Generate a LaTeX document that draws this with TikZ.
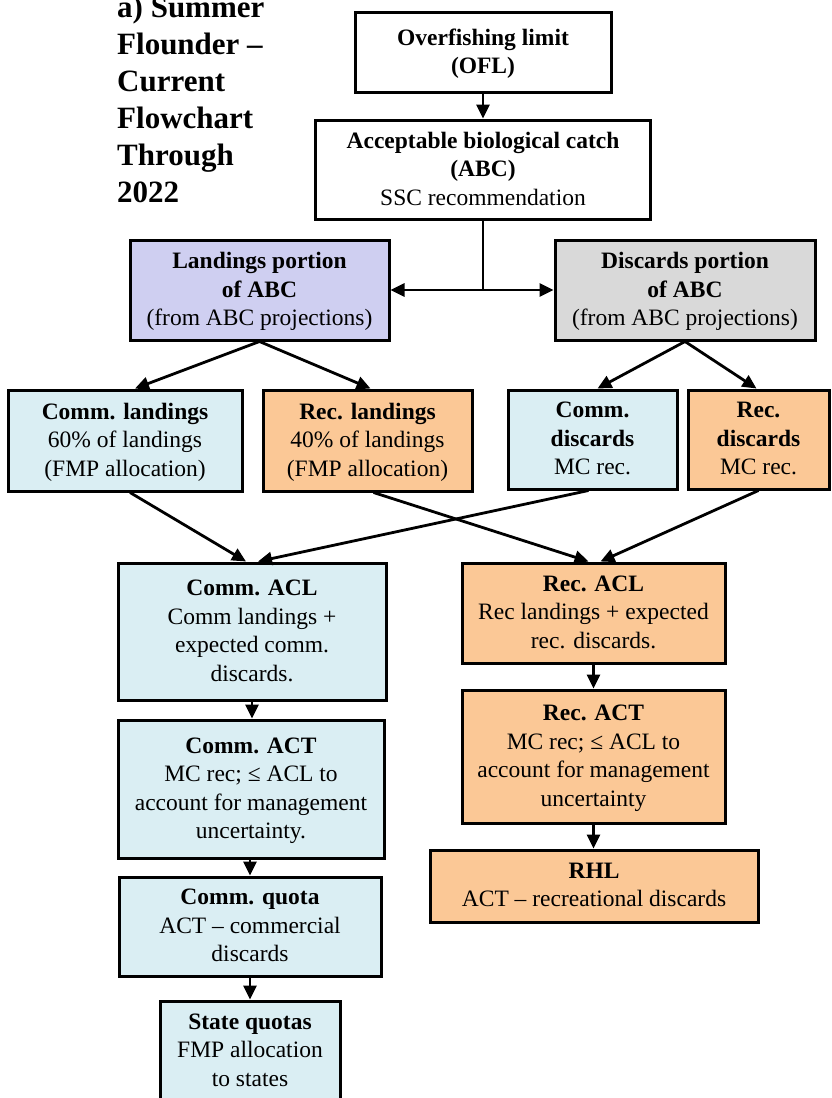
\documentclass[tikz,border=0pt]{standalone}
\usepackage{fontspec}
\setmainfont{Liberation Serif}
\usetikzlibrary{arrows.meta}
\definecolor{lav}{HTML}{CFCFF1}
\definecolor{grayf}{HTML}{D9D9D9}
\definecolor{aqua}{HTML}{DAEEF3}
\definecolor{orng}{HTML}{FBC896}
\begin{document}
\begin{tikzpicture}[x=1pt,y=-1pt,
  box/.style={draw=black, line width=3pt, inner sep=0pt, align=center,
    font=\fontsize{23.5}{28.5}\selectfont, text depth=2pt},
  arr/.style={line width=2.8pt, -{Triangle[length=14pt,width=13pt]}},
  ln/.style={line width=2.8pt}]
\useasboundingbox[fill=white] (0,0) rectangle (831,1098);

\node[anchor=north west, inner sep=0pt, align=left,
  font=\fontsize{31}{37}\selectfont\bfseries] (title) at (117,-4)
  {a) Summer\\Flounder –\\Current\\Flowchart\\Through\\2022};

\node[box, fill=white, minimum width=256, minimum height=80] (ofl) at (483,52)
  {\textbf{Overfishing limit}\\\textbf{(OFL)}};
\node[box, fill=white, minimum width=335, minimum height=99] (abc) at (483,169.5)
  {\textbf{Acceptable biological catch}\\\textbf{(ABC)}\\SSC recommendation};

\node[box, fill=lav, minimum width=259, minimum height=100] (land) at (259.5,290)
  {\textbf{Landings portion}\\\textbf{of ABC}\\(from ABC projections)};
\node[box, fill=grayf, minimum width=260, minimum height=100] (disc) at (685,290)
  {\textbf{Discards portion}\\\textbf{of ABC}\\(from ABC projections)};

\node[box, fill=aqua, minimum width=234, minimum height=101] (comml) at (125,440.5)
  {\textbf{Comm. landings}\\60\% of landings\\(FMP allocation)};
\node[box, fill=orng, minimum width=209, minimum height=101] (recl) at (367.5,440.5)
  {\textbf{Rec. landings}\\40\% of landings\\(FMP allocation)};
\node[box, fill=aqua, minimum width=169, minimum height=99] (commd) at (592.5,439.5)
  {\textbf{Comm.}\\\textbf{discards}\\MC rec.};
\node[box, fill=orng, minimum width=141, minimum height=99] (recd) at (758.5,439.5)
  {\textbf{Rec.}\\\textbf{discards}\\MC rec.};

\node[box, fill=aqua, minimum width=268, minimum height=137] (cacl) at (252,631.5)
  {\textbf{Comm. ACL}\\Comm landings +\\expected comm.\\discards.};
\node[box, fill=orng, minimum width=263, minimum height=100] (racl) at (593.5,613)
  {\textbf{Rec. ACL}\\Rec landings + expected\\rec. discards.};
\node[box, fill=aqua, minimum width=266, minimum height=138] (cact) at (251,789)
  {\textbf{Comm. ACT}\\MC rec; ≤ ACL to\\account for management\\uncertainty.};
\node[box, fill=orng, minimum width=263, minimum height=133] (ract) at (593.5,756.5)
  {\textbf{Rec. ACT}\\MC rec; ≤ ACL to\\account for management\\uncertainty};
\node[box, fill=orng, minimum width=328, minimum height=72] (rhl) at (594,886)
  {\textbf{RHL}\\ACT – recreational discards};
\node[box, fill=aqua, minimum width=262, minimum height=99] (cquota) at (250,926.5)
  {\textbf{Comm. quota}\\ACT – commercial\\discards};
\node[box, fill=aqua, minimum width=180, minimum height=100] (squota) at (250,1051)
  {\textbf{State quotas}\\FMP allocation\\to states};

% connectors
\draw[arr] (ofl.south) -- (abc.north);
\coordinate (j) at (483,290);
\draw[ln] (abc.south) -- (j);
\draw[arr] (j) -- (land.east);
\draw[arr] (j) -- (disc.west);

\draw[arr] (land.south) -- ([xshift=10]comml.north);
\draw[arr] (land.south) -- ([xshift=3]recl.north);
\draw[arr] (disc.south) -- ([xshift=5]commd.north);
\draw[arr] (disc.south) -- ([xshift=-2]recd.north);

\draw[arr] ([xshift=5]comml.south) -- ([xshift=-6]cacl.north);
\draw[arr] ([xshift=-4]commd.south) -- ([xshift=6]cacl.north);
\draw[arr] ([xshift=6]recl.south) -- ([xshift=-5]racl.north);
\draw[arr] (recd.south) -- ([xshift=7]racl.north);

\draw[arr] (cacl.south) -- (cact.north -| cacl.south);
\draw[arr] (cact.south -| cquota.north) -- (cquota.north);
\draw[arr] (cquota.south) -- (squota.north);
\draw[arr] (racl.south) -- (ract.north);
\draw[arr] (ract.south) -- (rhl.north -| ract.south);
\end{tikzpicture}
\end{document}
